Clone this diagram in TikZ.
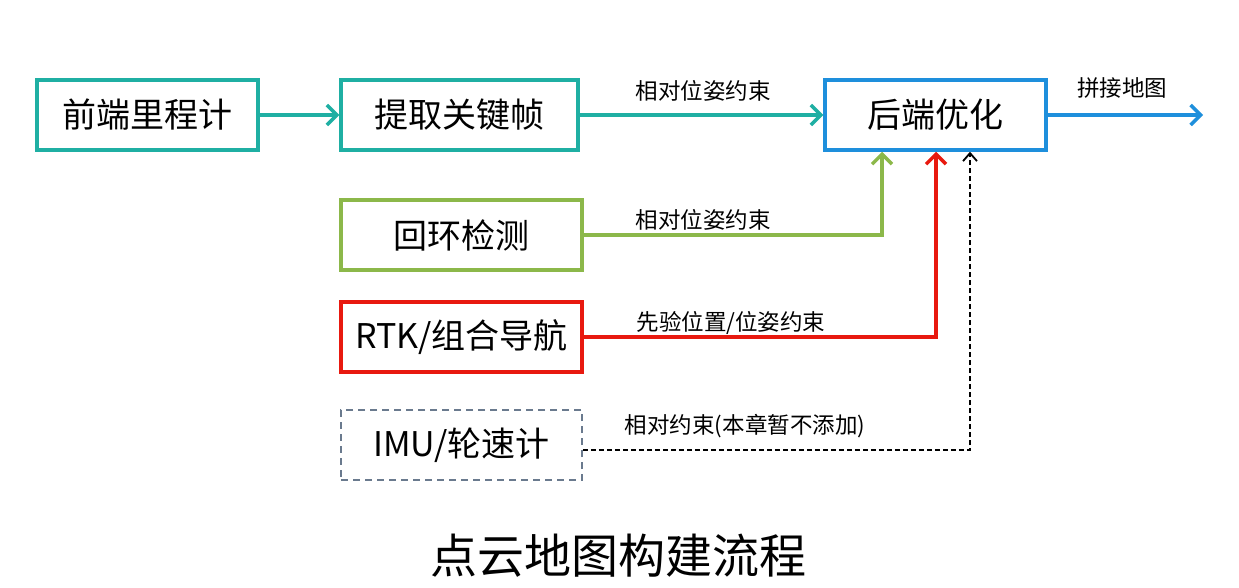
\documentclass[tikz,border=0pt]{standalone}
\usepackage{fontspec}
\setmainfont{Noto Sans CJK SC}
\usetikzlibrary{arrows.meta}
\definecolor{cteal}{HTML}{1FAFA3}
\definecolor{cblue}{HTML}{1E8FDC}
\definecolor{cgreen}{HTML}{8CB84A}
\definecolor{cred}{HTML}{E8190F}
\definecolor{cgray}{HTML}{6A7A8E}
\tikzset{
  box/.style={draw, line width=3.5pt, minimum width=#1, minimum height=70pt, inner sep=0pt, font=\fontsize{34}{40}\selectfont, fill=white},
  lbl/.style={font=\fontsize{22.5}{26}\selectfont, inner sep=0pt, anchor=base},
  arr/.style={line width=3.5pt, -{Straight Barb[length=10pt,width=20pt,line width=3.5pt]}},
}
\begin{document}
\begin{tikzpicture}[x=1pt,y=-1pt]
\useasboundingbox (0,0) rectangle (1239,587);
\node[box=221pt, draw=cteal] (fe) at (147.5,115) {前端里程计};
\node[box=237pt, draw=cteal] (kf) at (459.5,115) {提取关键帧};
\node[box=221pt, draw=cblue] (be) at (935.5,115) {后端优化};
\node[box=241pt, draw=cgreen] (lc) at (461.5,235) {回环检测};
\node[box=241pt, draw=cred] (rtk) at (461.5,337) {RTK/组合导航};
\node[box=241pt, draw=cgray, dashed, line width=1.8pt, dash pattern=on 7pt off 5pt] (imu) at (461.5,445) {IMU/轮速计};
\coordinate (out) at (1203,115);
\coordinate (lcc) at (882,235);
\coordinate (rtkc) at (936,337);
\coordinate (imuc) at (970,450);

\draw[arr, cteal] (fe) -- (kf);
\draw[arr, cteal] (kf) -- (be);
\draw[arr, cblue] (be) -- (out);
\draw[arr, cgreen, line width=3.5pt] (lc.east) -- (lcc) -- (lcc |- be.south);
\draw[arr, cred] (rtk.east) -- (rtkc) -- (rtkc |- be.south);
\draw[black, line width=1.8pt, dash pattern=on 5pt off 3pt, -{Straight Barb[length=8pt,width=14pt,line width=1.8pt]}] (imu.east |- imuc) -- (imuc) -- (imuc |- be.south);

\node[lbl] at (703,99) {相对位姿约束};
\node[lbl] at (703,228) {相对位姿约束};
\node[lbl] at (731,330) {先验位置/位姿约束};
\node[lbl] at (745,433) {相对约束(本章暂不添加)};
\node[lbl] at (1122,96) {拼接地图};
\node[font=\fontsize{47}{54}\selectfont, inner sep=0pt] (title) at (618,556) {点云地图构建流程};
\end{tikzpicture}
\end{document}
